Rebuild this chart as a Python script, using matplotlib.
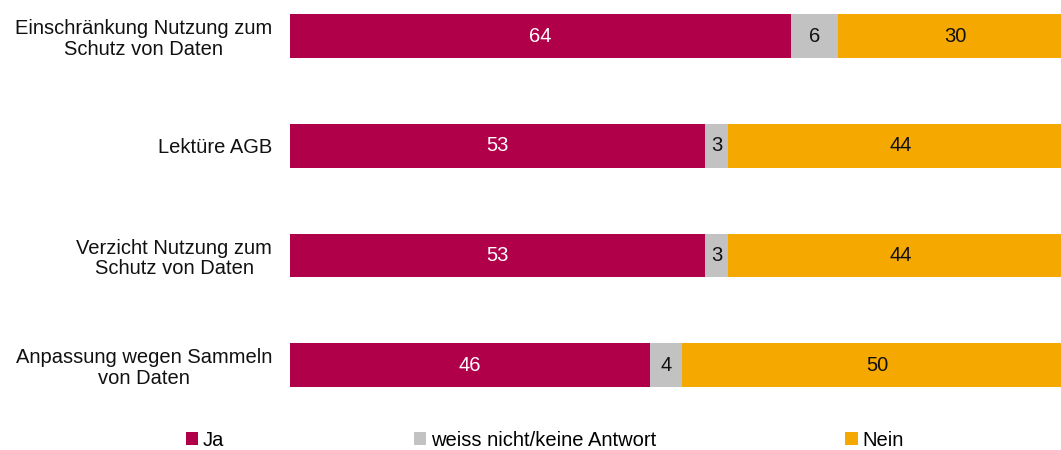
import matplotlib.pyplot as plt
import numpy as np

plt.rcParams['font.family'] = ['Liberation Sans', 'DejaVu Sans']

categories = [
    "Einschränkung Nutzung zum\nSchutz von Daten",
    "Lektüre AGB",
    "Verzicht Nutzung zum\nSchutz von Daten",
    "Anpassung wegen Sammeln\nvon Daten",
]
ja = [64, 53, 53, 46]
weiss_nicht = [6, 3, 3, 4]
nein = [30, 44, 44, 50]

series = [
    ("Ja", ja, "#B0004A", "white"),
    ("weiss nicht/keine Antwort", weiss_nicht, "#C2C2C2", "#111111"),
    ("Nein", nein, "#F5A800", "#111111"),
]

FS = 14.5

fig = plt.figure(figsize=(10.61, 4.5), dpi=100)
# axes runs slightly past the right edge, so the 100% bars get cut off
ax = fig.add_axes([290 / 1061, 1 - 420 / 450, 783 / 1061, 420 / 450])

y = np.arange(len(categories))
left = np.zeros(len(categories))
for name, vals, color, tcol in series:
    vals = np.array(vals, dtype=float)
    ax.barh(y, vals, left=left, height=0.4, color=color, label=name)
    for yi, l, v in zip(y, left, vals):
        ax.text(l + v / 2, yi, f"{v:.0f}", ha="center", va="center",
                color=tcol, fontsize=FS)
    left += vals

ax.set_xlim(0, 100)
ax.set_ylim(3.5, -0.33)
ax.set_yticks(y)
ax.set_yticklabels(categories, fontsize=FS, color="#111111",
                   multialignment="center", linespacing=1.1)
ax.tick_params(axis="y", length=0, pad=13)
ax.set_xticks([])
for s in ax.spines.values():
    s.set_visible(False)

fig.legend(loc="center", bbox_to_anchor=(545 / 1061, 0.022), ncol=3,
           frameon=False, fontsize=FS, handlelength=0.6, handleheight=0.6,
           handletextpad=0.25, columnspacing=9.4)

fig.savefig("out.png", dpi=100)
